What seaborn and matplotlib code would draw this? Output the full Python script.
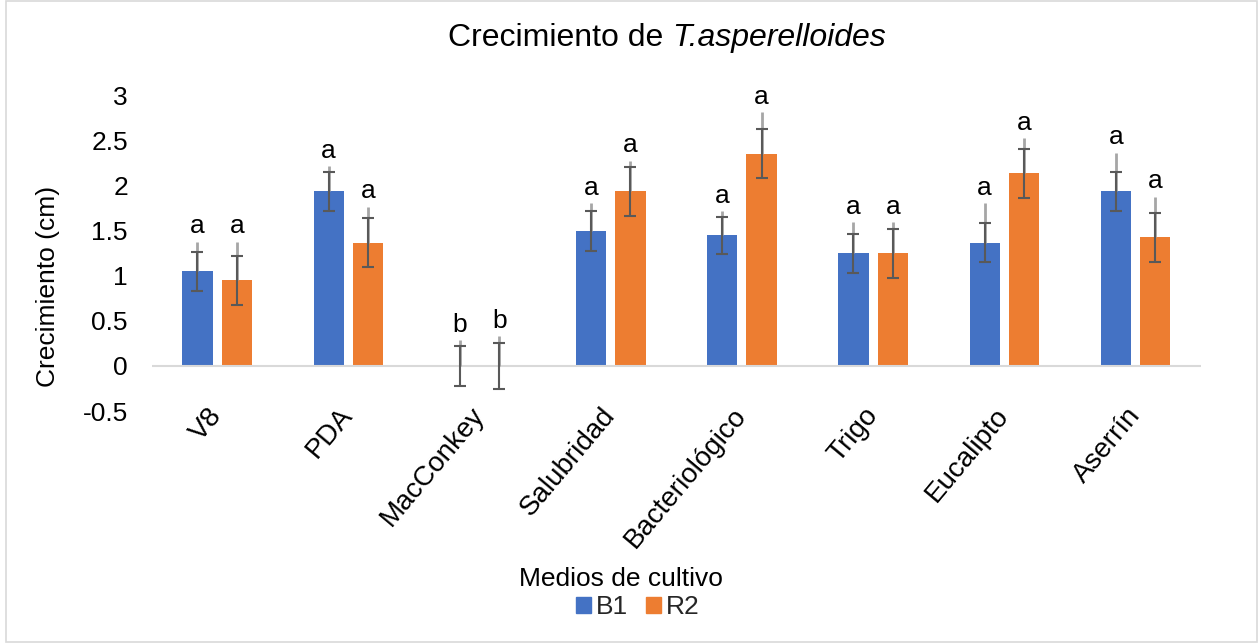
import pandas as pd
import seaborn as sns
import matplotlib.pyplot as plt
from matplotlib.patches import Patch, Rectangle


# Datos
medios = ['V8', 'PDA', 'MacConkey', 'Salubridad', 'Bacteriológico',
          'Trigo', 'Eucalipto', 'Aserrín']
series = ['B1', 'R2']

b1_media = [1.05, 1.94, 0.0, 1.50, 1.45, 1.25, 1.37, 1.94]
r2_media = [0.95, 1.37, 0.0, 1.94, 2.36, 1.25, 2.14, 1.43]

b1_de = [0.22, 0.22, 0.22, 0.22, 0.21, 0.22, 0.22, 0.22]
r2_de = [0.27, 0.27, 0.26, 0.27, 0.27, 0.27, 0.27, 0.27]

# extremo superior de la linea gris clara
b1_linea = [1.38, 2.22, 0.29, 1.81, 1.72, 1.60, 1.81, 2.37]
r2_linea = [1.38, 1.77, 0.33, 2.28, 2.82, 1.60, 2.53, 1.88]

b1_letra = ['a', 'a', 'b', 'a', 'a', 'a', 'a', 'a']
r2_letra = ['a', 'a', 'b', 'a', 'a', 'a', 'a', 'a']

colores = ['#4472C4', '#ED7D31']


sns.set_theme(style='white')
plt.rcParams['font.family'] = ['Liberation Sans', 'DejaVu Sans']

df = pd.DataFrame({
    'medio': medios * 2,
    'serie': ['B1'] * len(medios) + ['R2'] * len(medios),
    'valor': b1_media + r2_media,
})

fig = plt.figure(figsize=(12.6, 6.43), dpi=100)
ax = fig.add_axes([0.1203, 0.3608, 0.833, 0.49])

sns.barplot(data=df, x='medio', y='valor', hue='serie', order=medios,
            hue_order=series, palette=colores, saturation=1, width=0.6,
            gap=0.23, errorbar=None, linewidth=0, legend=False, ax=ax)

info = [(b1_media, b1_de, b1_linea, b1_letra),
        (r2_media, r2_de, r2_linea, r2_letra)]
for cont, (media, de, linea, letra) in zip(ax.containers, info):
    for patch, m, s, l, t in zip(cont.patches, media, de, linea, letra):
        xc = patch.get_x() + patch.get_width() / 2
        ax.plot([xc, xc], [m, l], color='#A6A6A6', lw=2.0, zorder=3,
                solid_capstyle='butt')
        ax.errorbar(xc, m, yerr=s, fmt='none', ecolor='#595959',
                    elinewidth=1.5, capsize=4.5, capthick=1.5, zorder=4)
        ax.annotate(t, (xc, l), xytext=(0, 6), textcoords='offset points',
                    ha='center', va='baseline', fontsize=19, color='black')

ax.set_ylim(-0.5, 3)
ax.set_yticks([-0.5, 0, 0.5, 1, 1.5, 2, 2.5, 3])
ax.set_yticklabels(['-0.5', '0', '0.5', '1', '1.5', '2', '2.5', '3'])
ax.set_xlim(-0.5, len(medios) - 0.5)
ax.axhline(0, color='#D9D9D9', lw=1.5, zorder=1)
for sp in ax.spines.values():
    sp.set_visible(False)

ax.tick_params(axis='y', length=0, pad=17, labelsize=19, labelcolor='black')
ax.tick_params(axis='x', length=0, pad=0, labelsize=20, labelcolor='black')
plt.setp(ax.get_xticklabels(), rotation=50, ha='right', va='center',
         rotation_mode='anchor')

ax.set_xlabel('')
ax.set_ylabel('Crecimiento (cm)', fontsize=19, color='black')
ax.yaxis.set_label_coords(-0.087, 0.394)

# titulo con parte en cursiva
t1 = fig.text(0, 1 - 46 / 643, 'Crecimiento de', ha='left', va='baseline',
              fontsize=23, color='black')
t2 = fig.text(0, 1 - 46 / 643, 'T.asperelloides', ha='left', va='baseline',
              fontsize=23, color='black', style='italic')
renderer = fig.canvas.get_renderer()
w1 = t1.get_window_extent(renderer).width
w2 = t2.get_window_extent(renderer).width
esp = 0.28 * 23 * 100 / 72
x0 = 667 - (w1 + esp + w2) / 2
t1.set_x(x0 / 1260)
t2.set_x((x0 + w1 + esp) / 1260)

# leyenda
fig.text(621 / 1260, 1 - 579 / 643, 'Medios de cultivo', ha='center',
         va='center', fontsize=19, color='black')
handles = [Patch(color=c, label=s) for c, s in zip(colores, series)]
leg = fig.legend(handles=handles, ncol=2, loc='center',
                 bbox_to_anchor=(638 / 1260, 1 - 607 / 643),
                 frameon=False, fontsize=19,
                 handlelength=0.55, handleheight=0.55, handletextpad=0.2,
                 columnspacing=0.7, borderpad=0)

fig.patches.append(Rectangle((0.005, 0.002), 0.993, 0.996,
                             transform=fig.transFigure, fill=False,
                             edgecolor='#D9D9D9', linewidth=1.2))

fig.savefig('out.png', dpi=100)
